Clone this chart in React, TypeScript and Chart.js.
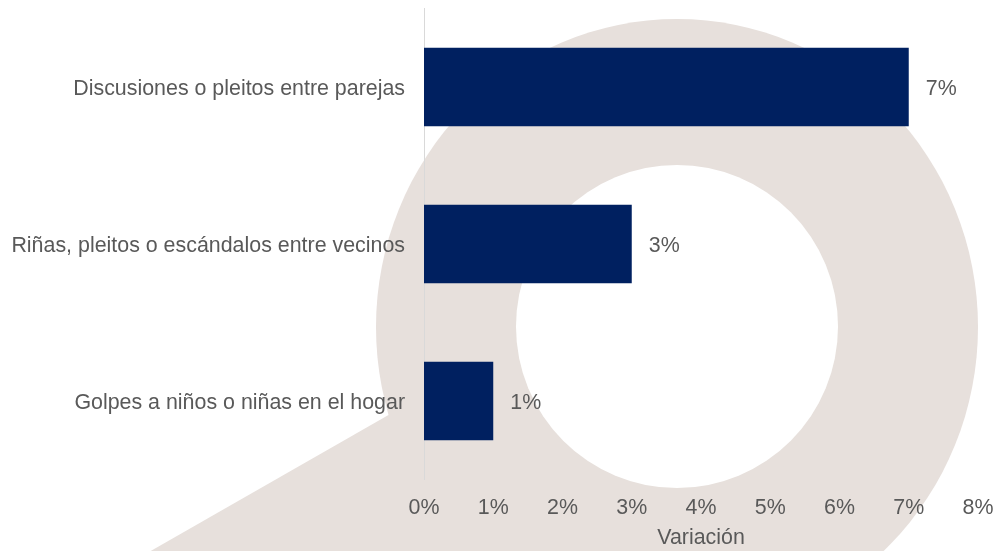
import React, { useEffect, useRef } from "react";
import { Chart, registerables } from "chart.js";

Chart.register(...registerables);

const categories = [
  "Discusiones o pleitos entre parejas",
  "Riñas, pleitos o escándalos entre vecinos",
  "Golpes a niños o niñas en el hogar",
];
const values = [7, 3, 1];
const valueLabels = ["7%", "3%", "1%"];
const xTicks = [0, 1, 2, 3, 4, 5, 6, 7, 8];
const axisTitle = "Variación";

const FONT = "'Liberation Sans', Arial, sans-serif";
const FS = 21.4;
const TEXT = "#595959";
const BEIGE = "#E7E0DC";
const NAVY = "#002060";

const watermark = {
  id: "watermark",
  beforeDraw(chart: any) {
    const ctx = chart.ctx;
    const cx = 677;
    const cy = 327;
    ctx.save();
    ctx.fillStyle = "#ffffff";
    ctx.fillRect(0, 0, chart.width, chart.height);
    ctx.fillStyle = BEIGE;
    ctx.beginPath();
    ctx.ellipse(cx, cy, 301, 308, 0, 0, Math.PI * 2);
    ctx.fill();
    ctx.beginPath();
    ctx.moveTo(392, 413);
    ctx.lineTo(100, 580);
    ctx.lineTo(870, 580);
    ctx.lineTo(cx, cy);
    ctx.closePath();
    ctx.fill();
    ctx.fillStyle = "#ffffff";
    ctx.beginPath();
    ctx.ellipse(cx, 326.5, 161, 161.5, 0, 0, Math.PI * 2);
    ctx.fill();
    ctx.restore();
  },
};

const valueLabelPlugin = {
  id: "valueLabels",
  afterDatasetsDraw(chart: any) {
    const ctx = chart.ctx;
    const meta = chart.getDatasetMeta(0);
    ctx.save();
    ctx.font = `${FS}px ${FONT}`;
    ctx.fillStyle = TEXT;
    ctx.textAlign = "left";
    ctx.textBaseline = "middle";
    meta.data.forEach((bar: any, i: number) => {
      ctx.fillText(valueLabels[i], bar.x + 17, bar.y + 2);
    });
    ctx.restore();
  },
};

export default function App() {
  const ref = useRef<HTMLCanvasElement | null>(null);
  useEffect(() => {
    if (!ref.current) return;
    const chart = new Chart(ref.current, {
      type: "bar",
      data: {
        labels: categories,
        datasets: [
          {
            data: values,
            backgroundColor: NAVY,
            borderWidth: 0,
            barPercentage: 0.5,
            categoryPercentage: 1,
          },
        ],
      },
      plugins: [watermark, valueLabelPlugin],
      options: {
        indexAxis: "y",
        responsive: false,
        animation: false,
        devicePixelRatio: 1,
        layout: { padding: { top: 8.5, right: 21, left: 0, bottom: 0 } },
        plugins: {
          legend: { display: false },
          tooltip: { enabled: false },
        },
        scales: {
          x: {
            min: 0,
            max: 8,
            afterBuildTicks: (scale: any) => {
              scale.ticks = xTicks.map((v) => ({ value: v }));
            },
            afterFit: (scale: any) => {
              scale.height = 71.5;
              scale.paddingLeft = 0;
              scale.paddingRight = 0;
            },
            grid: { display: false, drawTicks: false },
            border: { display: false },
            ticks: {
              color: TEXT,
              font: { family: FONT, size: FS },
              padding: 16,
              callback: (v: any) => `${v}%`,
            },
            title: {
              display: true,
              text: axisTitle,
              color: TEXT,
              font: { family: FONT, size: FS },
              padding: { top: 4, bottom: 0.5 },
            },
          },
          y: {
            afterFit: (scale: any) => {
              scale.width = 424;
              scale.paddingTop = 0;
              scale.paddingBottom = 0;
            },
            grid: { display: false, drawTicks: false },
            border: { display: true, color: "#D9D9D9", width: 1 },
            ticks: {
              color: TEXT,
              font: { family: FONT, size: FS },
              padding: 19,
              labelOffset: 2,
            },
          },
        },
      },
    });
    return () => chart.destroy();
  }, []);
  return (
    <div style={{ position: "fixed", left: 0, top: 0, width: 999, height: 551 }}>
      <canvas ref={ref} width={999} height={551} style={{ width: 999, height: 551 }} />
    </div>
  );
}
